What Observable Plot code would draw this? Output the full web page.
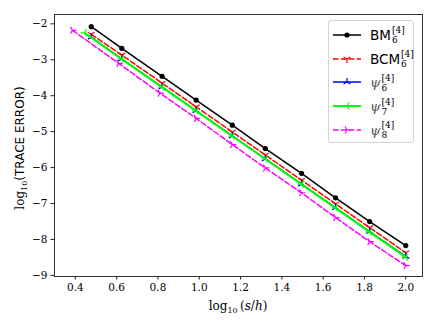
<!DOCTYPE html>
<html><head><meta charset="utf-8">
<script src="https://cdn.jsdelivr.net/npm/d3@7"></script>
<script src="https://cdn.jsdelivr.net/npm/@observablehq/plot@0.6"></script>
<style>
body{margin:0;background:#fff;}
#wrap{position:relative;width:436px;height:327px;overflow:hidden;}
.lab{position:absolute;font-family:"DejaVu Serif","Liberation Serif",serif;font-size:12px;color:#000;white-space:nowrap;}
#legend{position:absolute;left:328px;top:20px;width:86px;height:123px;border:1px solid #d4d4d4;border-radius:3px;background:rgba(255,255,255,0.85);box-sizing:border-box;}
.row{position:absolute;left:0;height:20px;}
.row svg{position:absolute;left:3px;top:0;}
.txt{position:absolute;left:41px;top:1px;font-size:13.5px;white-space:nowrap;line-height:18px;}
.ss{display:inline-block;vertical-align:middle;font-size:9px;line-height:9px;position:relative;top:-1px;margin-left:1px;font-family:"DejaVu Serif",serif;}
.sans{font-family:"DejaVu Sans",sans-serif;}
.psi{font-family:"DejaVu Serif",serif;font-style:italic;color:#555;}
svg text{font-family:"DejaVu Serif","Liberation Serif",serif;}
</style></head>
<body><div id="wrap"></div>
<script>
const xTicks = [0.4, 0.6, 0.8, 1.0, 1.2, 1.4, 1.6, 1.8, 2.0];
const yTicks = [-2, -3, -4, -5, -6, -7, -8, -9];

const xMain = [0.477, 0.625, 0.82, 0.985, 1.16, 1.32, 1.495, 1.66, 1.825, 2.0];
const xGreen = [0.445, 0.625, 0.82, 0.985, 1.16, 1.32, 1.495, 1.66, 1.825, 2.0];
const xMagenta = [0.386, 0.61, 0.81, 0.985, 1.16, 1.32, 1.495, 1.66, 1.825, 2.0];

const yBM = [-2.08, -2.68, -3.46, -4.12, -4.82, -5.47, -6.16, -6.84, -7.50, -8.17];
const yBCM = [-2.29, -2.87, -3.65, -4.31, -5.01, -5.65, -6.35, -7.01, -7.67, -8.37];
const yPsi6 = [-2.37, -2.98, -3.76, -4.42, -5.12, -5.76, -6.46, -7.12, -7.78, -8.47];
const yPsi7 = [-2.25, -2.98, -3.76, -4.42, -5.12, -5.76, -6.46, -7.12, -7.79, -8.49];
const yPsi8 = [-2.18, -3.10, -3.93, -4.63, -5.36, -6.01, -6.70, -7.39, -8.06, -8.73];

const names = ["BM", "BCM", "psi6", "psi7", "psi8"];
const colors = ["#000000", "#ff0000", "#0000ff", "#00ff00", "#ff00ff"];

function tri(angles) {
  return {draw(ctx, size) {
    const r = Math.sqrt(size / Math.PI);
    for (const a of angles) {
      const t = a * Math.PI / 180;
      ctx.moveTo(0, 0);
      ctx.lineTo(r * Math.cos(t), r * Math.sin(t));
    }
  }};
}
const triDown = tri([90, 210, 330]);
const triUp = tri([270, 150, 30]);
const triLeft = tri([180, 300, 60]);
const triRight = tri([0, 240, 120]);

const mk = (xs, ys) => xs.map((x, i) => ({x, y: ys[i]}));
const dBM = mk(xMain, yBM), dBCM = mk(xMain, yBCM), dP6 = mk(xMain, yPsi6),
      dP7 = mk(xGreen, yPsi7), dP8 = mk(xMagenta, yPsi8);

const dash = "5.5,2.4";
const chart = Plot.plot({
  width: 436, height: 327,
  marginLeft: 54, marginRight: 14, marginTop: 14, marginBottom: 51,
  style: {fontFamily: "'DejaVu Serif', serif", fontSize: "10px", color: "#000", background: "transparent"},
  x: {domain: [0.299, 2.081], label: null},
  y: {domain: [-9.03, -1.74], label: null},
  marks: [
    Plot.axisX({ticks: xTicks, tickFormat: d => d.toFixed(1), tickSize: 3.5, tickPadding: 4, stroke: "#222", fontSize: 10.5, fontFamily: "DejaVu Serif"}),
    Plot.axisY({ticks: yTicks, tickFormat: d => "\u2212" + Math.abs(d), tickSize: 3.5, tickPadding: 3.5, stroke: "#222", fontSize: 10.5, fontFamily: "DejaVu Serif"}),
    Plot.line(dBM, {x: "x", y: "y", stroke: colors[0], strokeWidth: 1.5}),
    Plot.dot(dBM, {x: "x", y: "y", r: 2.6, fill: colors[0], stroke: null}),
    Plot.line(dBCM, {x: "x", y: "y", stroke: colors[1], strokeWidth: 1.5, strokeDasharray: dash}),
    Plot.dot(dBCM, {x: "x", y: "y", r: 4, symbol: triDown, stroke: colors[1], strokeWidth: 1.2, fill: "none"}),
    Plot.line(dP6, {x: "x", y: "y", stroke: colors[2], strokeWidth: 1.5}),
    Plot.dot(dP6, {x: "x", y: "y", r: 4, symbol: triUp, stroke: colors[2], strokeWidth: 1.2, fill: "none"}),
    Plot.line(dP7, {x: "x", y: "y", stroke: colors[3], strokeWidth: 2}),
    Plot.dot(dP7, {x: "x", y: "y", r: 4, symbol: triLeft, stroke: colors[3], strokeWidth: 1.2, fill: "none"}),
    Plot.line(dP8, {x: "x", y: "y", stroke: colors[4], strokeWidth: 1.5, strokeDasharray: dash}),
    Plot.dot(dP8, {x: "x", y: "y", r: 4, symbol: triRight, stroke: colors[4], strokeWidth: 1.2, fill: "none"}),
    Plot.frame({stroke: "#333", strokeWidth: 1})
  ]
});
const wrap = document.getElementById("wrap");
wrap.appendChild(chart);

// axis labels
const xl = document.createElement("div");
xl.className = "lab";
xl.style.left = "238px"; xl.style.top = "307px";
xl.style.transform = "translate(-50%,-50%)";
xl.innerHTML = 'log<sub style="font-size:8px">10</sub>&thinsp;(<i>s</i>/<i>h</i>)';
wrap.appendChild(xl);

const yl = document.createElement("div");
yl.className = "lab";
yl.style.left = "21px"; yl.style.top = "148px";
yl.style.transform = "translate(-50%,-50%) rotate(-90deg)";
yl.innerHTML = 'log<sub style="font-size:8px">10</sub><span class="sans" style="font-size:12px">(TRACE ERROR)</span>';
wrap.appendChild(yl);

// legend
const legendLabels = [
  '<span class="sans">BM</span>',
  '<span class="sans">BCM</span>',
  '<span class="psi">ψ</span>',
  '<span class="psi">ψ</span>',
  '<span class="psi">ψ</span>'
];
const legendSubs = ["6", "6", "6", "7", "8"];
const legendDash = [null, dash, null, null, dash];
const legendSym = [null, triDown, triUp, triLeft, triRight];
const leg = document.createElement("div");
leg.id = "legend";
wrap.appendChild(leg);
names.forEach((n, i) => {
  const row = document.createElement("div");
  row.className = "row";
  row.style.top = (4 + i * 23.7) + "px";
  let sym = "";
  if (i === 0) sym = `<circle cx="15" cy="10" r="2.6" fill="#000"/>`;
  else {
    const path = d3.path();
    legendSym[i].draw(path, 16 * Math.PI);
    sym = `<path transform="translate(15,10)" d="${path.toString()}" stroke="${colors[i]}" stroke-width="1.2" fill="none"/>`;
  }
  row.innerHTML = `<svg width="32" height="20"><line x1="1" x2="29" y1="10" y2="10" stroke="${colors[i]}" stroke-width="${i===3?2:1.5}" ${legendDash[i] ? `stroke-dasharray="${legendDash[i]}"` : ""}/>${sym}</svg>` +
    `<div class="txt">${legendLabels[i]}<span class="ss"><span style="display:block">[4]</span><span style="display:block;margin-top:1px">${legendSubs[i]}</span></span></div>`;
  leg.appendChild(row);
});
</script>
</body></html>
